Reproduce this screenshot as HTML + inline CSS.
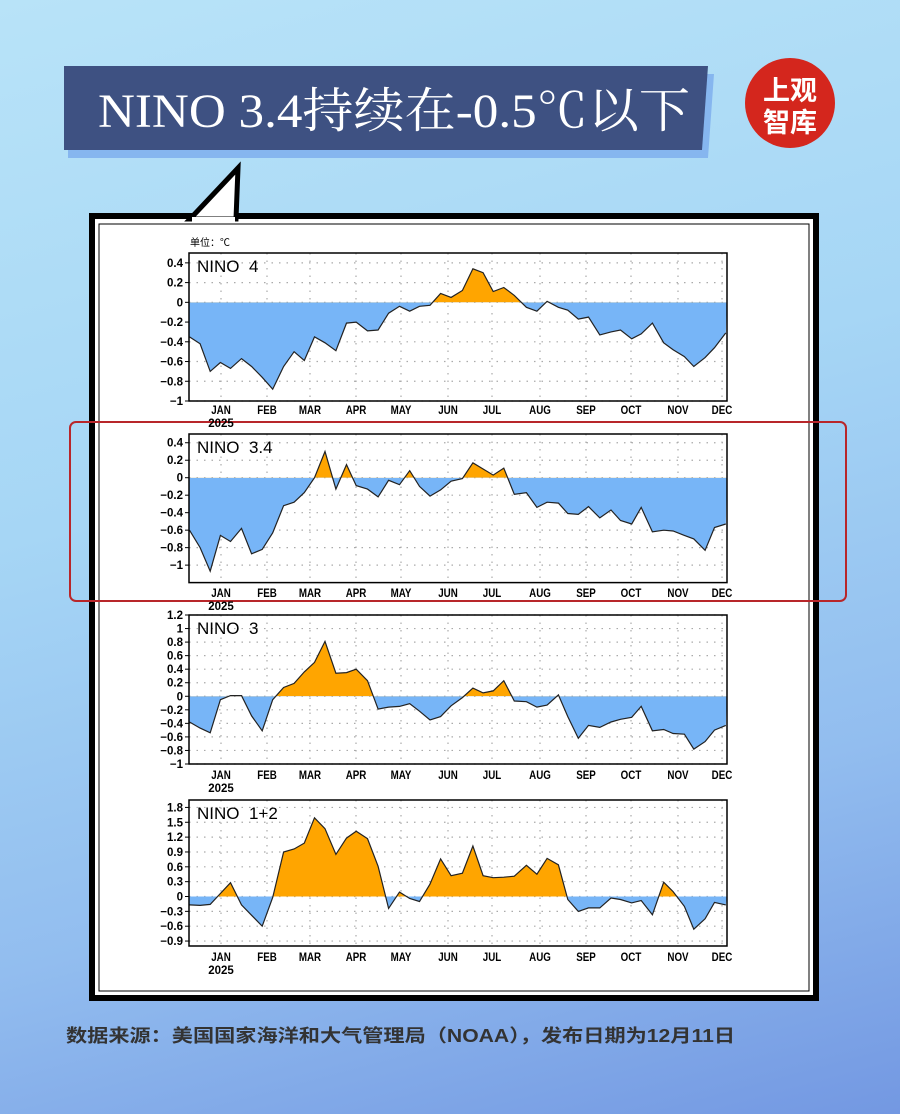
<!DOCTYPE html>
<html><head><meta charset="utf-8"><style>
html,body{margin:0;padding:0}
body{width:900px;height:1114px;overflow:hidden;position:relative;font-family:"Liberation Sans","Noto Sans CJK SC",sans-serif;
background:linear-gradient(165deg,#b8e3f8 0%,#a6d6f5 40%,#92bdef 72%,#7398e2 100%);}
</style></head><body>
<svg width="900" height="1114" style="position:absolute;left:0;top:0" id="s">
<polygon points="68,74 714,74 708,158 68,158" fill="#86b6ef"/>
<polygon points="64,66 708,66 702,150 64,150" fill="#3e5182"/>
<text x="98" y="127" fill="#fff" font-family="Liberation Serif,'Noto Serif CJK SC',serif" font-size="48" textLength="592" lengthAdjust="spacingAndGlyphs">NINO 3.4持续在-0.5℃以下</text>
<circle cx="790" cy="103" r="45" fill="#d4261d"/>
<text x="790" y="100" fill="#fff" font-size="27" font-weight="bold" text-anchor="middle" font-family="'Noto Sans CJK SC',sans-serif">上观</text>
<text x="790" y="132" fill="#fff" font-size="27" font-weight="bold" text-anchor="middle" font-family="'Noto Sans CJK SC',sans-serif">智库</text>
<rect x="92" y="216" width="724" height="782" fill="#fff" stroke="#000" stroke-width="6"/>
<rect x="99" y="224" width="710" height="767" fill="none" stroke="#000" stroke-width="1"/>
<polygon points="190,219 238,168 236,219" fill="#fff" stroke="#000" stroke-width="5"/>
<rect x="192" y="217" width="43" height="6" fill="#fff"/>
<text x="190" y="246" font-size="10" fill="#000">单位：℃</text>
<rect x="70" y="422" width="776" height="179" rx="6" fill="none" stroke="#b8262a" stroke-width="2"/>
<g id="charts"></g>
<text x="66" y="1042" font-size="18" font-weight="bold" fill="#333" textLength="669" lengthAdjust="spacingAndGlyphs">数据来源：美国国家海洋和大气管理局（NOAA），发布日期为12月11日</text>
</svg>
<script>
var zx=[105,133,160,187,214,243,270,298,326,355,383,410,437,465,494,522,548,578,606,634,663,690,716,744,772,800,830,858,885,912,940,968,1000,1028,1055,1085,1110,1138,1165,1195,1225,1250,1280,1305,1335,1365,1390,1420,1445,1475,1500,1530];
var X=zx.map(function(v){return 150+v/2.657;});
var charts=[
{name:"NINO  4",top:253,bot:401,min:-1,max:0.5,ticks:[0.4,0.2,0,-0.2,-0.4,-0.6,-0.8,-1],lab:["0.4","0.2","0","-0.2","-0.4","-0.6","-0.8","-1"],my:414,
d:[-0.35,-0.42,-0.7,-0.61,-0.67,-0.57,-0.65,-0.76,-0.88,-0.65,-0.5,-0.59,-0.35,-0.41,-0.49,-0.21,-0.2,-0.29,-0.28,-0.11,-0.04,-0.09,-0.04,-0.03,0.09,0.05,0.12,0.34,0.3,0.11,0.15,0.07,-0.05,-0.09,0.01,-0.05,-0.08,-0.17,-0.15,-0.33,-0.3,-0.28,-0.37,-0.32,-0.21,-0.41,-0.48,-0.55,-0.65,-0.56,-0.46,-0.31]},
{name:"NINO  3.4",top:434,bot:582.6,min:-1.2,max:0.5,ticks:[0.4,0.2,0,-0.2,-0.4,-0.6,-0.8,-1],lab:["0.4","0.2","0","-0.2","-0.4","-0.6","-0.8","-1"],my:597,
d:[-0.6,-0.8,-1.07,-0.66,-0.73,-0.58,-0.87,-0.82,-0.63,-0.32,-0.28,-0.17,0.0,0.3,-0.13,0.15,-0.09,-0.13,-0.22,-0.03,-0.08,0.08,-0.1,-0.21,-0.14,-0.04,-0.01,0.17,0.1,0.03,0.11,-0.19,-0.17,-0.34,-0.28,-0.29,-0.41,-0.42,-0.33,-0.46,-0.37,-0.49,-0.53,-0.34,-0.62,-0.6,-0.61,-0.66,-0.7,-0.83,-0.57,-0.53]},
{name:"NINO  3",top:615,bot:764,min:-1,max:1.2,ticks:[1.2,1,0.8,0.6,0.4,0.2,0,-0.2,-0.4,-0.6,-0.8,-1],lab:["1.2","1","0.8","0.6","0.4","0.2","0","-0.2","-0.4","-0.6","-0.8","-1"],my:779,
d:[-0.38,-0.47,-0.54,-0.05,0.01,0.01,-0.29,-0.51,-0.05,0.13,0.19,0.36,0.5,0.81,0.34,0.35,0.4,0.23,-0.19,-0.16,-0.15,-0.11,-0.22,-0.35,-0.3,-0.14,-0.02,0.12,0.05,0.08,0.23,-0.07,-0.08,-0.16,-0.13,0.02,-0.3,-0.62,-0.43,-0.46,-0.38,-0.34,-0.31,-0.15,-0.51,-0.49,-0.55,-0.56,-0.78,-0.67,-0.5,-0.43]},
{name:"NINO  1+2",top:800,bot:946,min:-1,max:1.95,ticks:[1.8,1.5,1.2,0.9,0.6,0.3,0,-0.3,-0.6,-0.9],lab:["1.8","1.5","1.2","0.9","0.6","0.3","0","-0.3","-0.6","-0.9"],my:961,
d:[-0.17,-0.18,-0.16,0.06,0.28,-0.17,-0.38,-0.6,-0.02,0.9,0.96,1.08,1.59,1.37,0.85,1.18,1.32,1.17,0.61,-0.24,0.09,-0.04,-0.1,0.25,0.76,0.42,0.47,1.02,0.42,0.38,0.39,0.41,0.63,0.45,0.77,0.64,-0.06,-0.3,-0.23,-0.23,-0.03,-0.06,-0.13,-0.08,-0.37,0.29,0.1,-0.2,-0.66,-0.45,-0.12,-0.17]}
];
var months=[["JAN",221],["FEB",267],["MAR",310],["APR",356],["MAY",401],["JUN",448],["JUL",492],["AUG",540],["SEP",586],["OCT",631],["NOV",678],["DEC",722]];
var L=189,R=727,h="";
charts.forEach(function(c,i){
 function Y(v){return c.top+(c.max-v)/(c.max-c.min)*(c.bot-c.top);}
 var z=Y(0);
 var line=X.map(function(x,k){return (k?"L":"M")+x.toFixed(1)+","+Y(c.d[k]).toFixed(1);}).join("");
 var area=line+"L"+R+","+z+"L"+L+","+z+"Z";
 h+='<clipPath id="p'+i+'"><rect x="'+L+'" y="'+c.top+'" width="'+(R-L)+'" height="'+(z-c.top)+'"/></clipPath>';
 h+='<clipPath id="n'+i+'"><rect x="'+L+'" y="'+z+'" width="'+(R-L)+'" height="'+(c.bot-z)+'"/></clipPath>';
 c.ticks.forEach(function(t,j){var y=Y(t);h+='<line x1="'+L+'" x2="'+R+'" y1="'+y+'" y2="'+y+'" stroke="#aaa" stroke-width="1.2" stroke-dasharray="1.5,6"/>';
  h+='<text x="183" y="'+(y+4)+'" font-size="11.5" font-weight="bold" text-anchor="end">'+c.lab[j].replace("-","\u2212")+'</text>';
  h+='<line x1="'+(L-4)+'" x2="'+L+'" y1="'+y+'" y2="'+y+'" stroke="#000"/>';});
 months.forEach(function(m){h+='<line x1="'+m[1]+'" x2="'+m[1]+'" y1="'+c.top+'" y2="'+c.bot+'" stroke="#aaa" stroke-width="1.2" stroke-dasharray="1.5,6"/>';
  h+='<text x="'+m[1]+'" y="'+c.my+'" font-size="11.5" font-weight="bold" text-anchor="middle" transform="translate('+m[1]+','+c.my+') scale(0.85,1) translate('+(-m[1])+','+(-c.my)+')">'+m[0]+'</text>';});
 h+='<text x="221" y="'+(c.my+13)+'" font-size="11.5" font-weight="bold" text-anchor="middle">2025</text>';
 h+='<path d="'+area+'" fill="#ffa500" clip-path="url(#p'+i+')"/>';
 h+='<path d="'+area+'" fill="#77b5f7" clip-path="url(#n'+i+')"/>';
 h+='<path d="'+line+'" fill="none" stroke="#222" stroke-width="1.2"/>';
 h+='<rect x="'+L+'" y="'+c.top+'" width="'+(R-L)+'" height="'+(c.bot-c.top)+'" fill="none" stroke="#000" stroke-width="1.5"/>';
 h+='<text x="197" y="'+(c.top+19)+'" font-size="17" xml:space="preserve">'+c.name+'</text>';
});
document.getElementById("charts").innerHTML=h;
</script>
</body></html>
